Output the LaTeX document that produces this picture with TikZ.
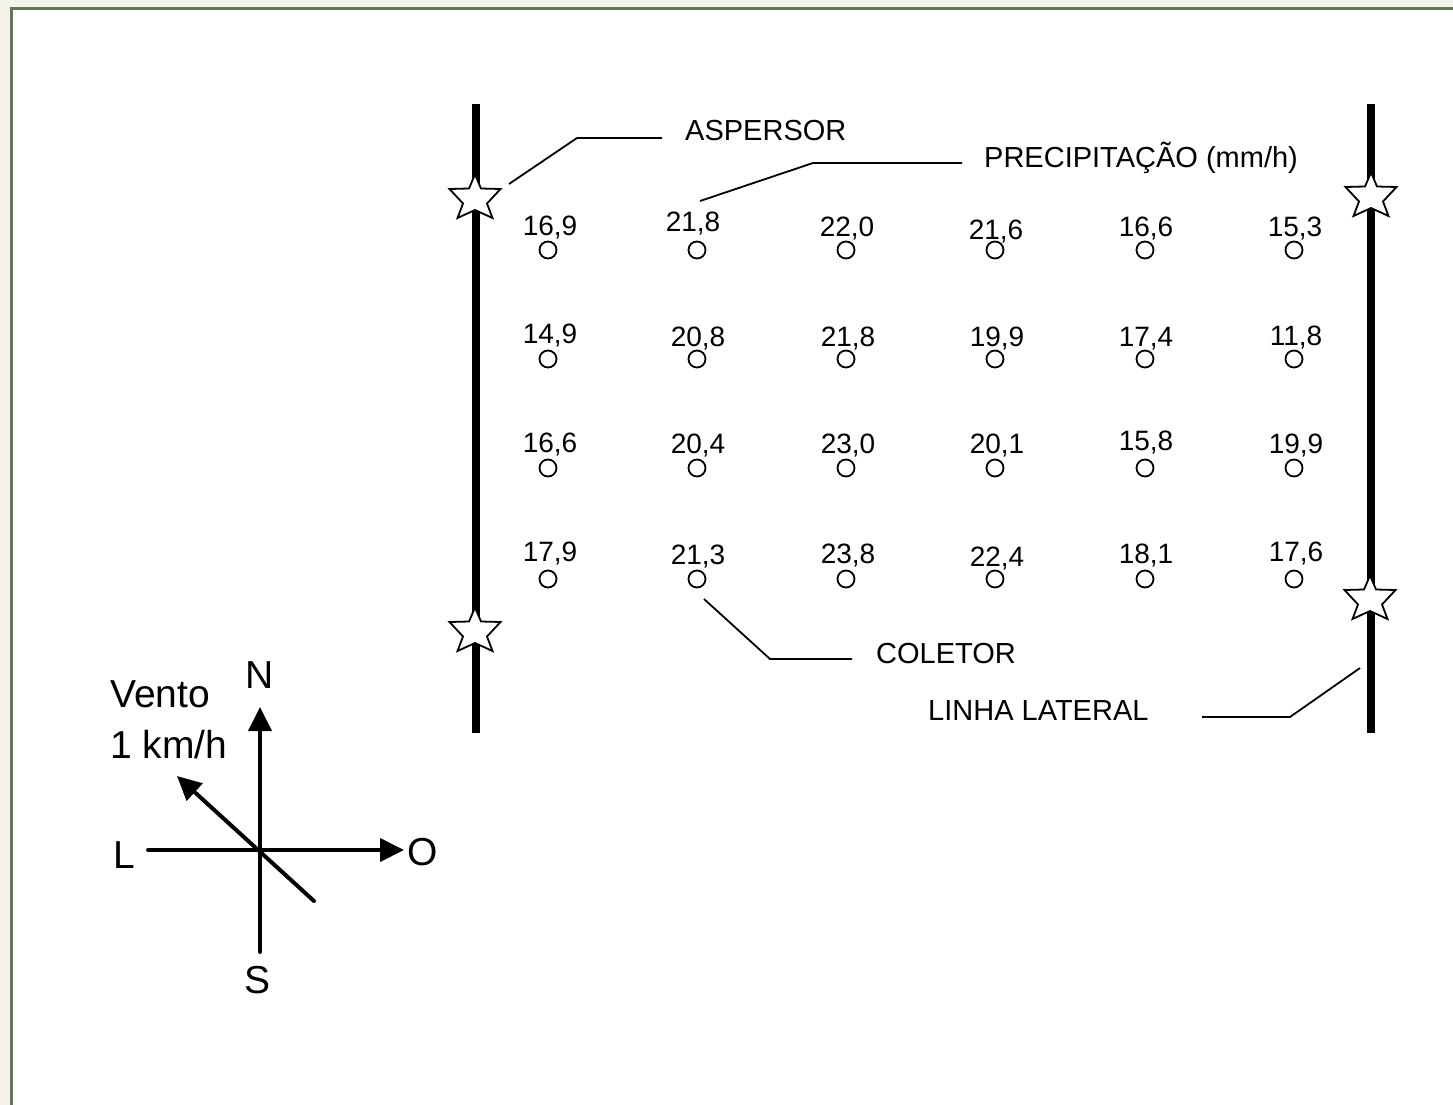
\documentclass[tikz,border=0pt]{standalone}
\usepackage{fontspec}
\setmainfont{Liberation Sans}
\usetikzlibrary{shapes.geometric,arrows.meta}
\definecolor{framegreen}{RGB}{102,119,85}
\definecolor{cream}{RGB}{244,243,234}
\begin{document}
\begin{tikzpicture}[x=1pt,y=-1pt,
  lbl/.style={font=\fontsize{29}{34}\selectfont, inner sep=0pt, anchor=base west},
  num/.style={font=\fontsize{28}{33}\selectfont, inner sep=0pt, anchor=base},
  cmp/.style={font=\fontsize{39}{46}\selectfont, inner sep=0pt},
  coletor/.style={circle, draw, line width=1.8pt, minimum size=17pt, inner sep=0pt},
  lateral/.style={line width=8.5pt},
  leader/.style={line width=1.8pt},
  axis/.style={line width=4pt, line cap=round, -{Triangle[length=24pt,width=23pt]}},
  sprinkler/.pic={
    \filldraw[fill=white, draw=black, line width=1.8pt, line join=miter]
      (0,-24.5) -- (6,-10.5) -- (25.5,-10) -- (12,4.5) -- (17.5,19) -- (0,11)
      -- (-17.5,19) -- (-12,4.5) -- (-25.5,-10) -- (-6,-10.5) -- cycle;
  }
]
\useasboundingbox (0,0) rectangle (1453,1105);
% frame
\fill[cream] (0,0) rectangle (1453,1105);
\fill[white] (11,9) rectangle (1453,1105);
\draw[framegreen, line width=3pt] (11,1105) -- (11,9) -- (1453,9);

% lateral lines
\coordinate (l1t) at (476,104);
\coordinate (l1b) at (476,733);
\coordinate (l2t) at (1371,104);
\coordinate (l2b) at (1371,733);
\draw[lateral] (l1t) -- (l1b);
\draw[lateral] (l2t) -- (l2b);

% sprinklers
\coordinate (s1) at (475,199);
\coordinate (s2) at (475,632);
\coordinate (s3) at (1371,197);
\coordinate (s4) at (1370,600);
\pic at (s1) {sprinkler};
\pic at (s2) {sprinkler};
\pic at (s3) {sprinkler};
\pic at (s4) {sprinkler};

% collectors and values
\foreach \col/\x in {1/548,2/697,3/846,4/995,5/1145,6/1294}{
  \foreach \row/\y in {1/250,2/359,3/468,4/579}{
    \node[coletor] (c\row\col) at (\x,\y) {};
  }
}
\node[num] (v11) at (550,235) {16,9};
\node[num] (v12) at (693,231) {21,8};
\node[num] (v13) at (847,236) {22,0};
\node[num] (v14) at (996,239) {21,6};
\node[num] (v15) at (1146,236) {16,6};
\node[num] (v16) at (1295,236) {15,3};
\node[num] (v21) at (550,343) {14,9};
\node[num] (v22) at (698,346) {20,8};
\node[num] (v23) at (848,346) {21,8};
\node[num] (v24) at (997,346) {19,9};
\node[num] (v25) at (1146,346) {17,4};
\node[num] (v26) at (1296,345) {11,8};
\node[num] (v31) at (550,452) {16,6};
\node[num] (v32) at (698,453) {20,4};
\node[num] (v33) at (848,453) {23,0};
\node[num] (v34) at (997,453) {20,1};
\node[num] (v35) at (1146,450) {15,8};
\node[num] (v36) at (1296,453) {19,9};
\node[num] (v41) at (550,561) {17,9};
\node[num] (v42) at (698,564) {21,3};
\node[num] (v43) at (848,563) {23,8};
\node[num] (v44) at (997,566) {22,4};
\node[num] (v45) at (1146,563) {18,1};
\node[num] (v46) at (1296,561) {17,6};

% labels with leaders
\node[lbl] (asp) at (685,141) {ASPERSOR};
\coordinate (a0) at (509,184);
\coordinate (a1) at (577,138);
\coordinate (a2) at (662,138);
\draw[leader] (a0) -- (a1) -- (a2);

\node[lbl] (prec) at (984,167) {PRECIPITAÇÃO (mm/h)};
\coordinate (p0) at (700,201);
\coordinate (p1) at (813,163);
\coordinate (p2) at (962,163);
\draw[leader] (p0) -- (p1) -- (p2);

\node[lbl] (col) at (876,663) {COLETOR};
\coordinate (k0) at (704,599);
\coordinate (k1) at (770,659);
\coordinate (k2) at (852,659);
\draw[leader] (k0) -- (k1) -- (k2);

\node[lbl] (lin) at (928,720) {LINHA LATERAL};
\coordinate (n0) at (1360,668);
\coordinate (n1) at (1290,717);
\coordinate (n2) at (1202,717);
\draw[leader] (n0) -- (n1) -- (n2);

% compass
\coordinate (ctr) at (260,850);
\coordinate (nt) at (260,707);
\coordinate (sb) at (260,952);
\coordinate (lw) at (148,850);
\coordinate (oe) at (404,850);
\coordinate (wse) at (314,901);
\coordinate (wnw) at (177,776);
\draw[axis] (sb) -- (nt);
\draw[axis] (lw) -- (oe);
\draw[axis] (wse) -- (wnw);
\node[cmp] (nN) at (260,675) {N};
\node[cmp] (nS) at (258,980) {S};
\node[cmp] (nL) at (124,855) {L};
\node[cmp] (nO) at (423,852) {O};
\node[cmp, anchor=west] (vento) at (110,694) {Vento};
\node[cmp, anchor=west] (vel) at (110,745) {1 km/h};
\end{tikzpicture}
\end{document}
